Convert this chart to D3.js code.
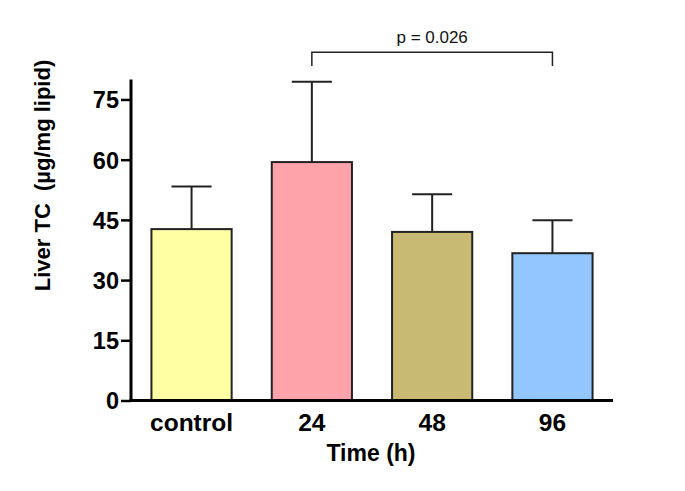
<!DOCTYPE html>
<html><head><meta charset="utf-8">
<script src="https://cdn.jsdelivr.net/npm/d3@7"></script>
<style>body{margin:0;background:#fff}svg{display:block}text{white-space:pre}</style>
</head><body>
<script>
const categories = ["control", "24", "48", "96"];
const means = [42.7, 59.4, 42.0, 36.7];
const errTops = [53.3, 79.4, 51.4, 44.9];
const colors = ["#FFFFA3", "#FFA3AB", "#C8BA72", "#93C5FF"];
const yTicks = [0, 15, 30, 45, 60, 75];
const pLabel = "p = 0.026";
const pPair = ["24", "96"];

const W = 685, H = 491;
const svg = d3.select("body").append("svg").attr("width", W).attr("height", H);
const font = "Arial, 'Liberation Sans', sans-serif";

const x = d3.scaleBand().domain(categories).range([131, 613]).paddingInner(1/3).paddingOuter(0.17);
const y = d3.scaleLinear().domain([0, 80]).range([400.5, 79.4]);

// bars
svg.selectAll("rect.bar").data(categories).join("rect")
  .attr("x", d => x(d)).attr("width", x.bandwidth())
  .attr("y", (d,i) => y(means[i])).attr("height", (d,i) => y(0) - y(means[i]))
  .attr("fill", (d,i) => colors[i]).attr("stroke", "#222").attr("stroke-width", 2);

// error bars
const g = svg.append("g").attr("stroke", "#222").attr("stroke-width", 2);
categories.forEach((d,i) => {
  const cx = x(d) + x.bandwidth()/2;
  g.append("line").attr("x1", cx).attr("x2", cx).attr("y1", y(means[i])).attr("y2", y(errTops[i]));
  g.append("line").attr("x1", cx - x.bandwidth()/4).attr("x2", cx + x.bandwidth()/4).attr("y1", y(errTops[i])).attr("y2", y(errTops[i]));
});

// y axis
const yAxis = d3.axisLeft(y).tickValues(yTicks).tickSize(10).tickPadding(2);
const ya = svg.append("g").attr("transform", "translate(131,0)").call(yAxis);
ya.select(".domain").attr("stroke", "#000").attr("stroke-width", 3).attr("d", `M0,${y(0)+1.5}V${y(80)}`);
ya.selectAll(".tick line").attr("stroke", "#000").attr("stroke-width", 2.5);
ya.selectAll(".tick text").attr("font-family", font).attr("font-size", 23.5).attr("font-weight", "bold").attr("fill", "#000").attr("dy", "0.36em");

// x axis
const xAxis = d3.axisBottom(x).tickSize(0).tickPadding(14);
const xa = svg.append("g").attr("transform", `translate(0,${y(0)})`).call(xAxis);
xa.select(".domain").attr("stroke", "#000").attr("stroke-width", 3).attr("d", `M129.5,0H613`);
xa.selectAll(".tick text").attr("font-family", font).attr("font-size", 24.5).attr("font-weight", "bold").attr("fill", "#000").attr("dy", "0.68em");

// axis titles
svg.append("text").attr("x", 371).attr("y", 461).attr("text-anchor", "middle")
  .attr("font-family", font).attr("font-size", 23).attr("font-weight", "bold").text("Time (h)");
svg.append("text").attr("transform", "translate(50,175.5) rotate(-90)").attr("text-anchor", "middle")
  .attr("font-family", font).attr("font-size", 22).attr("font-weight", "bold").text("Liver TC  (µg/mg lipid)");

// significance bracket
const x1 = x(pPair[0]) + x.bandwidth()/2, x2 = x(pPair[1]) + x.bandwidth()/2;
svg.append("path").attr("d", `M${x1},66V52.3H${x2}V66`).attr("fill", "none").attr("stroke", "#222").attr("stroke-width", 1.5);
svg.append("text").attr("x", (x1+x2)/2).attr("y", 43).attr("text-anchor", "middle")
  .attr("font-family", font).attr("font-size", 17).attr("fill", "#111").text(pLabel);
</script>
</body></html>
